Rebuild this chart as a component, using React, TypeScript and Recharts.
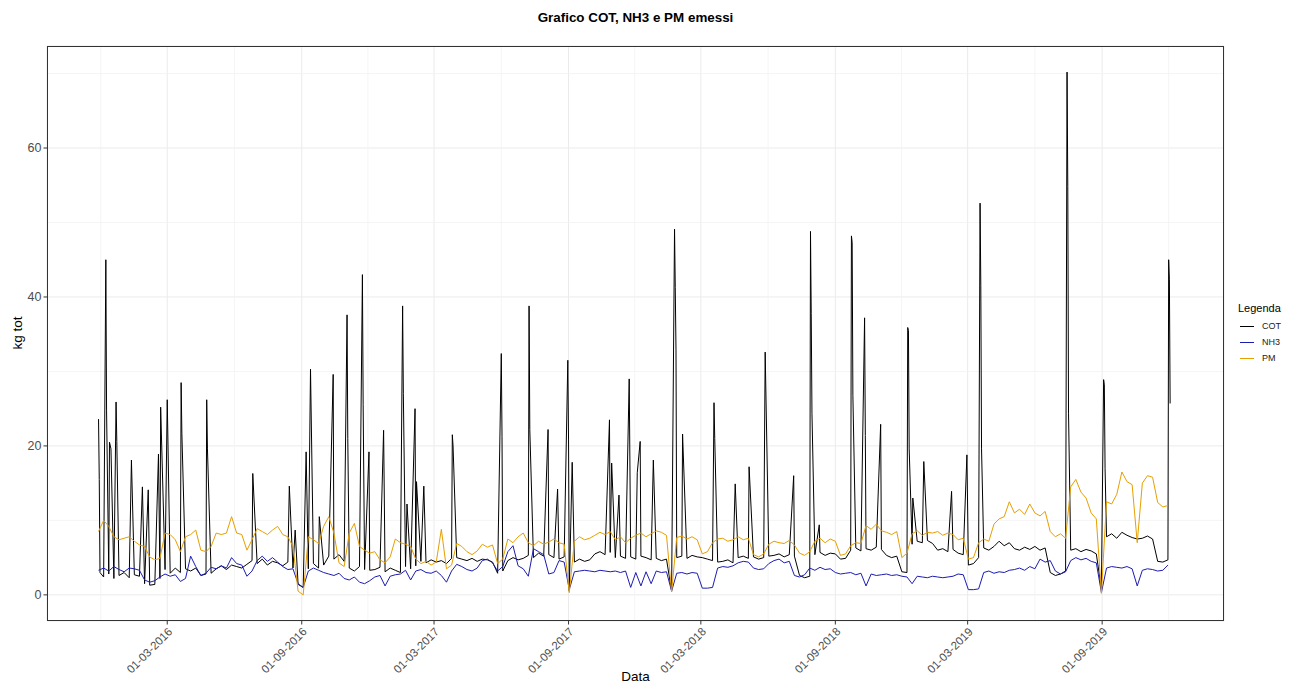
import { LineChart, Line, XAxis, YAxis, CartesianGrid, ReferenceLine } from 'recharts';

// day 0 = 28-11-2015, one reading every 7 days
const START = Date.UTC(2015, 10, 28);
const STEP = 7;

const cotWeek = [
  23.6, 2.4, 2.8, 2.2, 2.6, 3.0, 2.3, 2.7, 2.5, 1.5, 1.3, 1.4, 2.2, 3.4, 2.9, 3.6, 3.0, 3.5, 3.2, 3.6,
  2.6, 2.8, 2.9, 3.5, 3.9, 3.4, 4.0, 3.8, 3.6, 4.1, 4.6, 4.2, 4.8, 4.0, 4.5, 4.3, 3.9, 4.4, 3.6, 1.4,
  1.0, 3.5, 4.2, 3.6, 4.0, 5.2, 4.8, 5.4, 4.5, 3.6, 3.2, 3.8, 3.4, 3.3, 3.4, 3.7, 3.1, 3.6, 3.3, 3.0,
  3.8, 3.5, 3.9, 4.5, 4.3, 4.7, 4.4, 4.6, 4.2, 4.9, 5.0, 4.8, 4.6, 4.9, 4.5, 4.8, 4.7, 4.4, 2.9, 3.2,
  4.6, 5.0, 4.7, 4.9, 5.3, 5.0, 5.6, 5.2, 5.4, 5.0, 4.8, 5.1, 0.5, 4.4, 4.8, 4.5, 4.7, 5.5, 5.8, 5.4,
  5.7, 5.0, 5.2, 4.9, 5.1, 4.8, 5.2, 5.0, 4.7, 4.9, 4.6, 4.8, 0.5, 5.0, 5.2, 4.9, 5.3, 5.1, 5.0, 4.8,
  4.6, 4.4, 4.5, 4.7, 4.3, 5.0, 5.2, 4.9, 5.1, 4.8, 5.0, 5.2, 5.3, 5.5, 5.1, 5.4, 5.2, 2.6, 2.3, 2.5,
  5.4, 5.7, 5.3, 5.6, 5.5, 4.8, 4.9, 6.0, 6.3, 5.9, 6.2, 6.0, 6.4, 6.1, 5.3, 5.0, 5.2, 3.1, 3.0, 6.8,
  7.2, 7.0, 7.3, 6.9, 6.0, 6.2, 5.8, 6.1, 5.6, 5.4, 4.0, 4.2, 5.0, 6.3, 6.0, 6.5, 7.2, 6.6, 7.0, 6.2,
  6.0, 6.4, 6.1, 6.5, 6.0, 6.3, 3.0, 2.6, 2.8, 3.2, 6.0, 6.2, 5.8, 6.1, 5.9, 5.5, 0.8, 7.8, 8.2, 7.6,
  8.4, 8.0, 7.7, 7.5, 7.6, 7.9, 7.5, 4.5, 4.4, 4.7,
];

const nh3Week = [
  3.3, 3.6, 3.2, 3.8, 3.4, 3.1, 3.6, 3.5, 3.3, 2.0, 1.7, 1.9, 2.4, 2.8, 2.5, 2.7, 1.8, 2.2, 5.2, 3.8,
  2.6, 2.9, 3.7, 3.5, 3.9, 3.6, 5.0, 4.2, 4.0, 2.5, 3.2, 4.6, 5.2, 4.5, 5.0, 4.4, 3.8, 3.4, 3.5, 1.5,
  1.0, 3.2, 3.6, 3.3, 3.0, 2.8, 2.6, 2.9, 2.2, 2.0, 2.4, 1.7, 1.5, 1.9, 2.4, 2.6, 1.2, 2.5, 2.7, 2.8,
  3.3, 2.0, 3.2, 3.4, 3.0, 2.9, 3.2, 2.6, 1.7, 3.2, 4.1, 3.8, 3.4, 3.2, 3.6, 4.6, 4.8, 4.3, 3.2, 3.8,
  5.8, 6.6, 3.9, 3.5, 2.5, 6.2, 5.8, 5.4, 2.8, 3.0, 4.6, 4.4, 0.7, 3.1, 3.2, 3.3, 3.2, 3.1, 3.3, 3.2,
  3.1, 3.2, 3.0, 3.2, 1.0, 3.0, 1.2, 3.1, 1.5, 3.2, 3.0, 3.1, 0.5, 2.9, 3.0, 2.8, 3.0, 2.9, 0.9, 0.9,
  1.0, 3.6, 3.8, 3.7, 3.9, 4.3, 4.5, 4.4, 3.6, 3.4, 3.5, 4.2, 4.6, 4.8, 4.3, 4.5, 2.6, 2.4, 2.7, 3.6,
  3.3, 3.7, 3.4, 3.5, 3.0, 2.8, 2.9, 3.0, 2.7, 2.9, 1.2, 2.8, 2.6, 2.7, 2.8, 2.6, 2.7, 2.5, 2.4, 1.5,
  2.5, 2.4, 2.3, 2.5, 2.4, 2.3, 2.4, 2.5, 2.8, 2.7, 0.7, 0.7, 0.8, 3.0, 3.2, 2.9, 3.1, 3.0, 3.3, 3.4,
  3.6, 3.3, 3.8, 3.5, 4.8, 4.4, 4.6, 3.2, 2.8, 3.1, 4.6, 5.0, 4.7, 4.9, 4.5, 4.3, 0.3, 3.6, 3.8, 3.7,
  3.6, 3.8, 3.5, 1.2, 3.3, 3.5, 3.4, 3.2, 3.3, 4.0,
];

const pmWeek = [
  8.5, 10.0, 9.2, 7.8, 7.4, 7.6, 7.8, 7.2, 6.7, 6.5, 5.1, 4.7, 4.9, 8.3, 8.1, 7.4, 5.8, 7.8, 8.1, 8.7,
  6.0, 5.8, 6.5, 8.3, 8.1, 8.3, 10.5, 8.3, 8.1, 6.0, 7.4, 8.9, 8.5, 8.1, 8.7, 9.2, 8.1, 7.8, 6.5, 0.5,
  0.0, 7.8, 7.4, 6.9, 9.2, 10.5, 8.3, 4.3, 3.8, 8.3, 9.6, 6.5, 6.0, 5.6, 5.8, 4.7, 4.3, 5.1, 7.5, 7.0,
  6.8, 6.5, 4.8, 4.2, 4.5, 4.0, 4.4, 8.8, 3.5, 4.0, 6.9, 6.5, 5.8, 5.4, 5.9, 6.8, 6.4, 6.7, 4.2, 4.8,
  7.5, 7.0, 7.8, 8.3, 7.0, 6.6, 7.2, 6.8, 7.1, 7.5, 7.0, 6.8, 0.3, 7.2, 7.8, 7.4, 7.6, 8.0, 8.4, 8.1,
  8.5, 7.4, 7.8, 7.0, 7.6, 8.0, 8.3, 7.8, 8.2, 8.6, 8.4, 8.0, 0.4, 7.7, 7.9, 7.5, 7.8, 7.4, 5.5, 5.8,
  7.0, 7.5, 7.6, 7.2, 7.4, 7.8, 7.4, 7.6, 5.4, 5.1, 5.5, 6.8, 7.2, 7.0, 6.9, 7.3, 6.7, 5.6, 5.3, 5.8,
  7.2, 7.6, 7.0, 7.5, 7.2, 5.3, 5.5, 6.6, 7.0, 6.9, 9.3, 8.8, 9.5, 8.6, 8.4, 8.1, 8.5, 5.0, 5.6, 8.2,
  8.6, 8.0, 8.4, 8.3, 8.5, 8.0, 8.3, 8.1, 7.4, 7.6, 4.8, 5.0, 7.0, 7.5, 7.2, 9.5, 10.2, 10.5, 12.5, 11.0,
  11.5, 10.8, 12.2, 11.0, 10.6, 11.2, 8.5, 7.8, 8.2, 7.6, 14.5, 15.5, 13.8, 13.0, 11.0, 10.2, 0.2, 12.5, 12.2, 13.5,
  16.5, 15.2, 14.8, 7.0, 15.0, 16.0, 15.8, 12.4, 11.8, 12.0,
];

// COT daily peaks (days from 28-11-2015) that the weekly readings miss
const cotPeakDay = [
  1, 2, 10, 11, 15, 17, 24, 25, 45, 60, 68, 82, 85, 94, 113, 114, 148, 149, 211, 261,
  269, 284, 290, 302, 321, 340, 341, 361, 362, 370, 390, 416, 417, 422, 433, 435, 445, 484, 485, 551,
  552, 589, 590, 615, 628, 642, 643, 648, 699, 702, 712, 726, 737, 741, 759, 788, 789, 790, 799, 842,
  843, 871, 890, 912, 951, 974, 975, 976, 986, 1030, 1031, 1032, 1048, 1049, 1070, 1107, 1108, 1109, 1114, 1129,
  1167, 1188, 1206, 1207, 1208, 1325, 1326, 1327, 1375, 1376, 1377, 1464, 1465, 1466,
];
const cotPeakVal = [
  15.5, 3.0, 45.0, 24.7, 20.5, 19.6, 25.9, 20.6, 18.1, 14.5, 14.1, 18.9, 25.2, 26.2, 28.5, 21.7, 26.2, 19.6, 16.3, 14.6,
  8.7, 19.2, 30.3, 10.5, 29.6, 37.6, 21.0, 43.0, 25.6, 19.2, 22.1, 38.8, 27.0, 12.2, 25.0, 15.2, 14.6, 21.5, 20.0, 32.4,
  21.3, 38.8, 22.2, 22.2, 14.2, 31.5, 20.8, 17.8, 23.5, 17.7, 13.4, 29.0, 16.4, 20.6, 18.1, 49.1, 41.3, 33.0, 21.6, 25.8,
  21.0, 14.9, 17.2, 32.6, 16.0, 48.8, 37.8, 24.4, 9.4, 48.2, 47.3, 26.8, 37.2, 21.4, 22.9, 35.9, 35.5, 19.6, 13.0, 17.9,
  13.9, 18.8, 52.6, 41.5, 19.6, 70.2, 54.8, 24.4, 28.9, 28.2, 17.0, 45.0, 42.3, 25.7,
];

const tickDates = ['2016-03-01', '2016-09-01', '2017-03-01', '2017-09-01', '2018-03-01', '2018-09-01', '2019-03-01', '2019-09-01'];
const yTicks = [0, 20, 40, 60];
const yMinor = [10, 30, 50, 70];

const toDay = (iso: string) => (Date.parse(iso) - START) / 86400000;
const xTicks = tickDates.map(toDay);
// minor breaks halfway between major ones, like ggplot
const ext = ['2015-09-01', ...tickDates, '2020-03-01'].map(toDay);
const xMinor = ext.slice(1).map((d, i) => (d + ext[i]) / 2);

const pad = (n: number) => String(n).padStart(2, '0');
const fmtDay = (d: number) => {
  const dt = new Date(START + d * 86400000);
  return `${pad(dt.getUTCDate())}-${pad(dt.getUTCMonth() + 1)}-${dt.getUTCFullYear()}`;
};

type Row = { day: number; cot: number; nh3?: number; pm?: number };
const rows: Row[] = [];
cotWeek.forEach((v, i) => rows.push({ day: i * STEP, cot: v, nh3: nh3Week[i], pm: pmWeek[i] }));
cotPeakDay.forEach((d, i) => rows.push({ day: d, cot: cotPeakVal[i] }));
rows.sort((a, b) => a.day - b.day);

const FONT = '"Liberation Sans", Arial, sans-serif';
const colors = { cot: '#000000', nh3: '#1c1cb0', pm: '#E69F00' };

const XTick = (props: any) => {
  const { x, y, payload } = props;
  return (
    <text
      x={x}
      y={y}
      transform={`rotate(-45 ${x} ${y})`}
      textAnchor="end"
      dy="0.72em"
      fill="#4D4D4D"
      fontSize={11.5}
      fontFamily={FONT}
    >
      {fmtDay(payload.value)}
    </text>
  );
};

const legendItems: { key: keyof typeof colors; label: string }[] = [
  { key: 'cot', label: 'COT' },
  { key: 'nh3', label: 'NH3' },
  { key: 'pm', label: 'PM' },
];

export default function App() {
  return (
    <div style={{ position: 'absolute', left: 0, top: 0, width: 1299, height: 689, background: '#fff', fontFamily: FONT }}>
      <div style={{ position: 'absolute', left: 47, top: 10, width: 1177, textAlign: 'center', fontWeight: 'bold', fontSize: 13.4, lineHeight: '16px' }}>
        Grafico COT, NH3 e PM emessi
      </div>
      <LineChart width={1299} height={689} data={rows} margin={{ top: 46, right: 75, bottom: 0, left: 0 }}>
        <CartesianGrid stroke="#EBEBEB" strokeWidth={1} />
        {yMinor.map((v) => (
          <ReferenceLine key={'y' + v} y={v} stroke="#F2F2F2" strokeWidth={0.8} />
        ))}
        {xMinor.map((v) => (
          <ReferenceLine key={'x' + v} x={v} stroke="#F2F2F2" strokeWidth={0.8} />
        ))}
        <XAxis
          type="number"
          dataKey="day"
          domain={[-70.5, 1539.7]}
          allowDataOverflow
          ticks={xTicks}
          interval={0}
          tick={<XTick />}
          tickSize={3.5}
          tickMargin={2}
          tickLine={{ stroke: '#333333' }}
          axisLine={false}
          height={68}
        />
        <YAxis
          type="number"
          domain={[-3.51, 73.7]}
          allowDataOverflow
          ticks={yTicks}
          interval={0}
          tick={{ fill: '#4D4D4D', fontSize: 12.5, fontFamily: FONT }}
          tickSize={3.5}
          tickMargin={2}
          tickLine={{ stroke: '#333333' }}
          axisLine={false}
          width={47}
        />
        <Line dataKey="cot" stroke={colors.cot} strokeWidth={1} dot={false} isAnimationActive={false} connectNulls />
        <Line dataKey="nh3" stroke={colors.nh3} strokeWidth={1} dot={false} isAnimationActive={false} connectNulls />
        <Line dataKey="pm" stroke={colors.pm} strokeWidth={1} dot={false} isAnimationActive={false} connectNulls />
      </LineChart>
      <div style={{ position: 'absolute', left: 47, top: 46, width: 1177, height: 575, boxSizing: 'border-box', border: '1px solid #333333', pointerEvents: 'none' }} />
      <div style={{ position: 'absolute', left: 0, top: 333, width: 34, height: 0 }}>
        <div style={{ position: 'absolute', left: 17, top: 0, transform: 'translate(-50%, -50%) rotate(-90deg)', fontSize: 13.5, whiteSpace: 'nowrap' }}>
          kg tot
        </div>
      </div>
      <div style={{ position: 'absolute', left: 47, top: 669, width: 1177, textAlign: 'center', fontSize: 13.5, lineHeight: '16px' }}>
        Data
      </div>
      <div style={{ position: 'absolute', left: 1238, top: 301, fontSize: 11, lineHeight: '14px' }}>Legenda</div>
      {legendItems.map((it, i) => (
        <div key={it.key} style={{ position: 'absolute', left: 1240, top: 319 + i * 16, height: 14, display: 'flex', alignItems: 'center' }}>
          <span style={{ display: 'inline-block', width: 14, height: 1, background: colors[it.key] }} />
          <span style={{ marginLeft: 8, fontSize: 9, color: '#222' }}>{it.label}</span>
        </div>
      ))}
    </div>
  );
}
